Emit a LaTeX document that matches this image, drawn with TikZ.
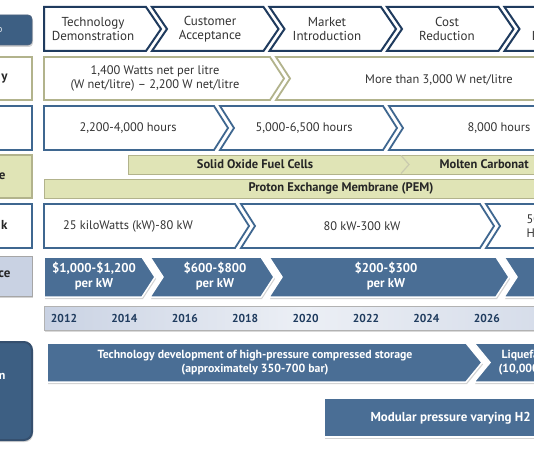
\documentclass[tikz,border=0pt]{standalone}
\usepackage{fontspec}
\setmainfont{PT Sans}
\usetikzlibrary{shadows}
\definecolor{navy}{HTML}{1F3B5E}
\definecolor{steel}{HTML}{3F6790}
\definecolor{khaki}{HTML}{B2B38C}
\definecolor{khakifill}{HTML}{E0E4B6}
\definecolor{bluefill}{HTML}{4A6E95}
\definecolor{paleblue}{HTML}{C9D2E3}
\definecolor{darkbox}{HTML}{3D5F83}
\definecolor{txtgrey}{HTML}{333333}
\begin{document}
\begin{tikzpicture}[x=1pt,y=-1pt,
  stage/.style={draw=navy,line width=2pt,fill=white},
  dens/.style={draw=khaki,line width=1.8pt,fill=white},
  life/.style={draw=steel,line width=1.8pt,fill=white},
  fuel/.style={draw=khaki,line width=.8pt,fill=khakifill},
  price/.style={draw=white,line width=1.5pt,fill=bluefill,drop shadow={opacity=.35,shadow xshift=1pt,shadow yshift=-2pt}},
  store/.style={price},
  plain/.style={text=txtgrey,font=\fontsize{12.4}{14}\selectfont,align=center},
  stagetxt/.style={plain,font=\fontsize{13}{14}\selectfont},
  boldtxt/.style={text=black!85,font=\bfseries\fontsize{12.5}{14}\selectfont},
  whitetxt/.style={text=white,font=\bfseries\fontsize{12.8}{15}\selectfont,align=center},
  year/.style={text=navy,font=\bfseries\fontsize{11.5}{12}\selectfont}]
\useasboundingbox (0,0) rectangle (534,462);
\clip (0,0) rectangle (534,462);
% left labels
\draw[fill=darkbox,draw=navy!80,line width=.8pt,rounded corners=4pt,drop shadow={opacity=.35,shadow xshift=1pt,shadow yshift=-2pt}] (-10,15) rectangle (32,45);
\node[text=white!85!darkbox,font=\fontsize{10}{12}\selectfont,anchor=east] (lbStage) at (6,30) {o};
\draw[dens] (-10,57) rectangle (32,100);
\node[boldtxt,font=\bfseries\fontsize{13}{14}\selectfont,anchor=east] (lbDens) at (11,79) {y};
\draw[life] (-10,106) rectangle (32,150);
\draw[fuel,line width=1.5pt] (-10,155) rectangle (32,198);
\node[boldtxt,font=\bfseries\fontsize{13}{14}\selectfont,anchor=east] (lbFuel) at (9,176) {e};
\draw[life] (-10,204) rectangle (32,248);
\node[boldtxt,font=\bfseries\fontsize{13}{14}\selectfont,anchor=east] (lbStack) at (11,225) {k};
\draw[fill=paleblue,draw=gray!70,line width=.8pt,drop shadow={opacity=.35,shadow xshift=1pt,shadow yshift=-2pt}] (-10,256) rectangle (32,296);
\node[boldtxt,font=\bfseries\fontsize{13}{14}\selectfont,anchor=east] (lbPrice) at (14,274) {ce};
\draw[fill=darkbox,draw=navy!90,line width=2pt,rounded corners=8pt,drop shadow={opacity=.35,shadow xshift=1pt,shadow yshift=-2pt}] (-10,342) rectangle (32,440);
\node[text=white,font=\bfseries\fontsize{12}{13}\selectfont,anchor=east] (lbStore) at (9,376) {n};
% stages
\draw[stage] (44,7) -- (146,7) -- (161,29) -- (146,51) -- (44,51) -- cycle;
\foreach \a/\b in {161/278.5,278.5/396,396/513.5,513.5/631}
  \draw[stage] (\a-9,7) -- (\b-15,7) -- (\b,29) -- (\b-15,51) -- (\a-9,51) -- (\a+6,29) -- cycle;
\node[stagetxt] (stDemo) at (93,29) {Technology\\Demonstration};
\node[stagetxt] (stAccept) at (210,29) {Customer\\Acceptance};
\node[stagetxt] (stMarket) at (327,29) {Market\\Introduction};
\node[stagetxt] (stCost) at (447,29) {Cost\\Reduction};
\node[stagetxt,anchor=west] (stNext) at (528,36) {I};
% power density
\draw[dens] (44,57) -- (270,57) -- (284,78.5) -- (270,100) -- (44,100) -- cycle;
\draw[dens] (276,57) -- (560,57) -- (560,100) -- (276,100) -- (290,78.5) -- cycle;
\node[plain] (densA) at (155,78.5) {1,400 Watts net per litre\\(W net/litre) -- 2,200 W net/litre};
\node[plain] (densB) at (439,80) {More than 3,000 W net/litre};
% lifetime
\draw[life] (44,106) -- (214,106) -- (228,128) -- (214,150) -- (44,150) -- cycle;
\draw[life] (220,106) -- (383,106) -- (397,128) -- (383,150) -- (220,150) -- (234,128) -- cycle;
\draw[life] (389,106) -- (560,106) -- (560,150) -- (389,150) -- (403,128) -- cycle;
\node[plain] (lifeA) at (128,128) {2,200-4,000 hours};
\node[plain] (lifeB) at (304,128) {5,000-6,500 hours};
\node[plain,anchor=west] (lifeC) at (464,128) {8,000 hours};
% fuel cell types
\draw[fuel] (128,155) rectangle (560,174);
\draw[khaki!70,line width=1.2pt] (401,155.5) -- (409,164.5) -- (401,173.5);
\draw[fuel] (44,179) rectangle (560,198);
\node[boldtxt] (fuelSO) at (255,164.5) {Solid Oxide Fuel Cells};
\node[boldtxt,anchor=west] (fuelMC) at (436,164.5) {Molten Carbonat};
\node[boldtxt] (fuelPEM) at (341,188.5) {Proton Exchange Membrane (PEM)};
% stack size
\draw[life] (44,204) -- (235,204) -- (249,226) -- (235,248) -- (44,248) -- cycle;
\draw[life] (241,204) -- (480,204) -- (494,226) -- (480,248) -- (241,248) -- (255,226) -- cycle;
\draw[life] (486,204) -- (560,204) -- (560,248) -- (486,248) -- (500,226) -- cycle;
\node[plain] (stackA) at (128,226) {25 kiloWatts (kW)-80 kW};
\node[plain] (stackB) at (362,226) {80 kW-300 kW};
\node[plain,anchor=west,align=left] (stackC) at (523,227) {50\\Hy};
% price
\draw[price] (44,257) -- (142,257) -- (155,277) -- (142,297) -- (44,297) -- cycle;
\draw[price] (150,257) -- (261,257) -- (274,277) -- (261,297) -- (150,297) -- (163,277) -- cycle;
\draw[price] (269,257) -- (496,257) -- (509,277) -- (496,297) -- (269,297) -- (282,277) -- cycle;
\draw[price] (504,257) -- (560,257) -- (560,297) -- (504,297) -- (517,277) -- cycle;
\node[whitetxt] (priceA) at (94,276) {\$1,000-\$1,200\\per kW};
\node[whitetxt] (priceB) at (215,276) {\$600-\$800\\per kW};
\node[whitetxt] (priceC) at (386,276) {\$200-\$300\\per kW};
% years
\draw[draw=gray!60,line width=.6pt,left color=paleblue,right color=paleblue!80,middle color=paleblue!35,drop shadow={opacity=.3,shadow xshift=1pt,shadow yshift=-1.5pt}] (44,306) rectangle (560,330);
\foreach \yr [count=\k from 0] in {2012,2014,2016,2018,2020,2022,2024,2026,2028}
  \node[year] (yr\yr) at (64+60.4*\k,318) {\yr};
% storage
\draw[store] (47,343) -- (466,343) -- (482,362.5) -- (466,382) -- (47,382) -- cycle;
\draw[store] (474,343) -- (560,343) -- (560,382) -- (474,382) -- (490,362.5) -- cycle;
\node[whitetxt,font=\bfseries\fontsize{11.8}{14}\selectfont] (storeA) at (255,362.5) {Technology development of high-pressure compressed storage\\(approximately 350-700 bar)};
\node[whitetxt,font=\bfseries\fontsize{11.8}{14}\selectfont,anchor=west,align=left] (storeB) at (495,362.5) {\ Liquefa\\(10,000};
\draw[store] (324,398) rectangle (560,437);
\node[whitetxt,font=\bfseries\fontsize{13}{14}\selectfont,anchor=west] (storeC) at (367,418) {Modular pressure varying H2};
\end{tikzpicture}
\end{document}
